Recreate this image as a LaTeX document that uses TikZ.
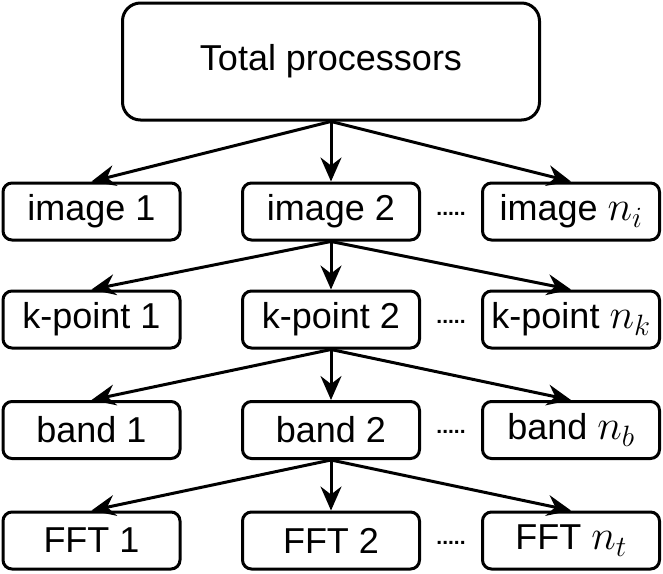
\RequirePackage{fix-cm}
\documentclass[tikz,border=0pt]{standalone}
\usepackage{fontspec}
\setmainfont{Liberation Sans}
\usetikzlibrary{arrows.meta}
\newcommand{\cnt}[1]{{\fontsize{42}{42}\selectfont$n_{#1}$}}

\begin{document}
\begin{tikzpicture}[x=1pt,y=-1pt]
    \tikzstyle{every node}+=[inner sep=0pt]
    \tikzstyle{box}=[draw=black, line width=3pt, rounded corners=9pt, minimum width=177pt, minimum height=57pt, font=\fontsize{36}{40}\selectfont]
    \tikzstyle{topbox}=[box, rounded corners=18pt, minimum width=417pt, minimum height=117pt]
    \tikzstyle{link}=[black, line width=3pt, -{Stealth[length=24pt,width=21pt,inset=8pt]}]
    \tikzstyle{dots}=[anchor=base, font=\bfseries\fontsize{21}{24}\selectfont]
    \useasboundingbox (0,0) rectangle (663,573);
    \node [topbox] (total) at (331,61.5) {Total processors};
    \node [box] (img1) at (91.5,211.5) {image 1};
    \node [box] (img2) at (331,211.5) {image 2};
    \node [box] (imgn) at (571,211.5) {image \cnt{i}};
    \node [dots] (dimg) at (451,215) {.....};
    \node [box] (kp1) at (91.5,319.5) {k-point 1};
    \node [box] (kp2) at (331,319.5) {k-point 2};
    \node [box] (kpn) at (571,319.5) {k-point \cnt{k}};
    \node [dots] (dkp) at (451,323) {.....};
    \node [box] (bd1) at (91.5,430) {band 1};
    \node [box] (bd2) at (331,430) {band 2};
    \node [box] (bdn) at (571,430) {band \cnt{b}};
    \node [dots] (dbd) at (451,433.5) {.....};
    \node [box] (fft1) at (91.5,540.5) {FFT 1};
    \node [box] (fft2) at (331,540.5) {FFT 2};
    \node [box] (fftn) at (571,540.5) {FFT \cnt{t}};
    \node [dots] (dfft) at (451,544) {.....};
    \draw [link] (total.south) -- (img1.north);
    \draw [link] (total.south) -- (img2.north);
    \draw [link] (total.south) -- (imgn.north);
    \draw [link] (img2.south) -- (kp1.north);
    \draw [link] (img2.south) -- (kp2.north);
    \draw [link] (img2.south) -- (kpn.north);
    \draw [link] (kp2.south) -- (bd1.north);
    \draw [link] (kp2.south) -- (bd2.north);
    \draw [link] (kp2.south) -- (bdn.north);
    \draw [link] (bd2.south) -- (fft1.north);
    \draw [link] (bd2.south) -- (fft2.north);
    \draw [link] (bd2.south) -- (fftn.north);
\end{tikzpicture}
\end{document}
